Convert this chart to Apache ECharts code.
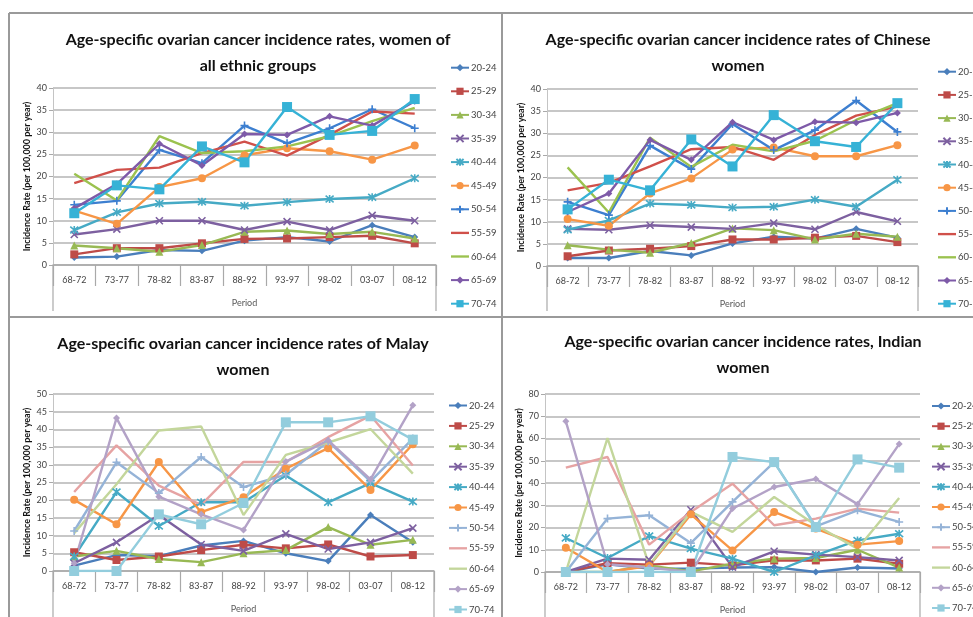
<!DOCTYPE html>
<html>
<head>
<meta charset="utf-8">
<script src="https://cdn.jsdelivr.net/npm/echarts@6/dist/echarts.min.js"></script>
<style>
  html, body { margin: 0; padding: 0; background: #ffffff; }
  #chart { width: 973px; height: 617px; }
</style>
</head>
<body>
<div id="chart"></div>
<script>
// Diagnosis periods (x axis categories)
const periods = ['68-72', '73-77', '78-82', '83-87', '88-92', '93-97', '98-02', '03-07', '08-12'];

// Age groups (one line per group)
const ageGroups = ['20-24', '25-29', '30-34', '35-39', '40-44', '45-49', '50-54', '55-59', '60-64', '65-69', '70-74'];

// Incidence per 100,000 per year, rows follow ageGroups, columns follow periods
const allEthnicRates = [
  [1.7, 1.9, 3.4, 3.2, 5.5, 6.3, 5.3, 9.0, 6.3],
  [2.4, 3.8, 3.8, 4.9, 5.9, 6.0, 6.3, 6.6, 4.9],
  [4.4, 3.8, 3.0, 4.5, 7.5, 7.8, 7.0, 7.5, 6.0],
  [6.9, 8.1, 10.0, 10.0, 7.9, 9.8, 7.9, 11.2, 10.0],
  [7.9, 11.9, 13.9, 14.3, 13.4, 14.2, 14.9, 15.3, 19.6],
  [12.3, 9.3, 17.6, 19.6, 24.8, 26.4, 25.7, 23.8, 27.0],
  [13.6, 14.5, 26.0, 23.0, 31.5, 27.5, 30.9, 35.2, 30.9],
  [18.5, 21.5, 22.0, 25.3, 27.9, 24.7, 29.4, 34.7, 34.2],
  [20.6, 14.6, 29.1, 25.3, 25.7, 26.8, 29.1, 32.5, 35.5],
  [12.8, 18.3, 27.4, 22.5, 29.6, 29.4, 33.6, 31.5, 37.0],
  [11.7, 18.0, 17.1, 26.8, 23.2, 35.7, 29.4, 30.3, 37.5]
];

const chineseRates = [
  [1.8, 1.8, 3.4, 2.4, 5.1, 6.6, 6.2, 8.4, 6.4],
  [2.2, 3.5, 3.9, 4.5, 6.0, 6.0, 6.4, 6.8, 5.4],
  [4.7, 3.7, 3.0, 5.2, 8.5, 8.1, 6.0, 7.3, 6.6],
  [8.4, 8.2, 9.2, 8.8, 8.4, 9.7, 8.3, 12.2, 10.1],
  [8.2, 10.3, 14.1, 13.8, 13.2, 13.4, 15.0, 13.4, 19.5],
  [10.6, 9.1, 16.4, 19.8, 26.3, 26.8, 24.8, 24.8, 27.3],
  [14.5, 11.5, 27.2, 21.9, 32.1, 26.2, 30.7, 37.4, 30.3],
  [17.1, 18.8, 22.5, 26.4, 26.9, 24.0, 29.6, 34.0, 36.0],
  [22.3, 12.1, 29.0, 22.4, 27.4, 25.9, 28.3, 33.0, 36.8],
  [12.2, 16.4, 28.5, 24.0, 32.5, 28.5, 32.6, 32.4, 34.6],
  [12.8, 19.5, 17.1, 28.6, 22.5, 34.1, 28.2, 26.9, 36.8]
];

const malayRates = [
  [1.5, 4.5, 4.2, 7.2, 8.5, 5.0, 2.8, 15.8, 8.1],
  [5.3, 3.1, 4.1, 5.9, 7.4, 6.4, 7.5, 4.1, 4.5],
  [4.1, 5.7, 3.4, 2.5, 5.0, 5.9, 12.4, 7.4, 8.8],
  [2.2, 8.1, 15.8, 7.5, 5.7, 10.5, 6.2, 8.1, 12.1],
  [4.1, 22.3, 12.7, 19.4, 19.4, 27.0, 19.4, 24.8, 19.6],
  [20.1, 13.2, 30.8, 16.6, 20.8, 28.9, 34.7, 22.9, 35.8],
  [11.3, 30.7, 22.0, 32.2, 23.7, 27.2, 36.6, 25.3, 37.4],
  [22.3, 35.5, 24.1, 18.7, 30.8, 30.8, 37.8, 43.9, 29.8],
  [10.7, 24.5, 39.7, 40.8, 15.8, 32.8, 36.3, 40.1, 27.5],
  [2.2, 43.2, 21.0, 16.0, 11.6, 30.9, 36.9, 25.9, 46.8],
  [0, 0, 16.0, 13.2, 19.2, 42.0, 42.0, 43.7, 37.1]
];

const indianRates = [
  [0, 3.5, 1.5, 1.5, 2.0, 2.2, 0, 2.0, 1.6],
  [0, 4.0, 3.3, 4.2, 3.0, 5.2, 5.2, 6.0, 3.7],
  [0, 0, 3.0, 0.3, 3.7, 6.0, 6.3, 10.0, 2.0],
  [0, 6.0, 5.5, 28.0, 2.2, 9.3, 7.8, 6.7, 5.2],
  [15.3, 6.3, 16.2, 10.5, 6.0, 0, 7.5, 14.2, 17.2],
  [10.9, 0, 2.7, 25.9, 9.7, 27.0, 19.5, 12.3, 13.9],
  [0, 24.0, 25.5, 13.0, 31.5, 49.4, 20.5, 27.7, 22.5],
  [46.9, 51.7, 12.3, 27.0, 39.7, 21.0, 24.0, 28.5, 26.7],
  [0, 60.2, 3.0, 27.0, 18.0, 33.7, 21.0, 10.5, 33.3],
  [67.7, 3.5, 2.0, 0, 28.5, 38.2, 41.8, 30.5, 57.5],
  [0, 0, 0, 0, 51.7, 49.4, 20.2, 50.6, 46.9]
];

// Line colours: strong set for the top row, paler tints for the older groups in the bottom row
const strongColors = ['#4a7ebb', '#be4b48', '#98b954', '#7d60a0', '#46aac5', '#f79646',
                      '#3d7fd0', '#d0504a', '#9bc24f', '#7e5aa8', '#36b2d6'];
const paleColors   = ['#4a7ebb', '#be4b48', '#98b954', '#7d60a0', '#46aac5', '#f79646',
                      '#95b3d7', '#e6a3a3', '#c3d69b', '#b3a2c7', '#93cddd'];

// Marker shapes per age group
const markerShapes = [
  'diamond', 'rect', 'triangle',
  'path://M0,0L10,10M10,0L0,10',
  'path://M0,0L10,10M10,0L0,10M5,-1L5,11',
  'circle',
  'path://M5,0L5,10M0,5L10,5',
  'none', 'none', 'diamond', 'rect'
];
const markerSizes = [7, 8, 8, 7, 8, 8, 8, 0, 0, 7, 10];

// Legend icon for the groups drawn without markers: a plain stroke
const plainLineIcon = 'path://M0,0L20,0L20,2.6L0,2.6Z';

const AXIS_GREY = '#a9a9a9';
const FONT = 'Lato, "Open Sans", sans-serif';

const panels = [
  {
    key: 'all',
    title: 'Age-specific ovarian cancer incidence rates, women of\nall ethnic groups',
    rates: allEthnicRates, colors: strongColors, yMax: 40, yStep: 5,
    grid: { left: 53, top: 88, width: 383, height: 177 },
    titleX: 258, titleTop: 27,
    legend: { left: 450, top: 62.7, gap: 13.6 },
    edgeBottom: 311
  },
  {
    key: 'chinese',
    title: 'Age-specific ovarian cancer incidence rates of Chinese\nwomen',
    rates: chineseRates, colors: strongColors, yMax: 40, yStep: 5,
    grid: { left: 547, top: 89, width: 371, height: 177 },
    titleX: 738, titleTop: 27,
    legend: { left: 937, top: 66.7, gap: 13.2 },
    edgeBottom: 311
  },
  {
    key: 'malay',
    title: 'Age-specific ovarian cancer incidence rates of Malay\nwomen',
    rates: malayRates, colors: paleColors, yMax: 50, yStep: 5,
    grid: { left: 53, top: 394, width: 381, height: 177 },
    titleX: 243, titleTop: 331,
    legend: { left: 448, top: 400.5, gap: 10.4 },
    edgeBottom: 617
  },
  {
    key: 'indian',
    title: 'Age-specific ovarian cancer incidence rates, Indian\nwomen',
    rates: indianRates, colors: paleColors, yMax: 80, yStep: 10,
    grid: { left: 545, top: 394, width: 375, height: 178 },
    titleX: 743, titleTop: 329,
    legend: { left: 931, top: 401, gap: 10.2 }, edgeBottom: 617
  }
];

const titles = [], grids = [], xAxes = [], yAxes = [], legends = [], series = [], graphics = [];

panels.forEach(function (p, pi) {
  titles.push({
    text: p.title, padding: 0,
    left: p.titleX, top: p.titleTop, textAlign: 'center',
    textStyle: { fontFamily: FONT, fontWeight: 'bold', fontSize: 16, lineHeight: 26, color: '#111' }
  });
  grids.push({ left: p.grid.left, top: p.grid.top, width: p.grid.width, height: p.grid.height, containLabel: false });
  xAxes.push({
    type: 'category', gridIndex: pi, data: periods, boundaryGap: true,
    name: 'Period', nameLocation: 'middle', nameGap: 34,
    nameTextStyle: { fontFamily: FONT, fontSize: 9, color: '#595959' },
    axisLine: { lineStyle: { color: AXIS_GREY, width: 1.5 } },
    axisTick: { show: true, interval: 0, length: 21, lineStyle: { color: AXIS_GREY, width: 1.2 } },
    axisLabel: { interval: 0, margin: 11, fontFamily: FONT, fontSize: 9, color: '#444' },
    splitLine: { show: false }
  });
  yAxes.push({
    type: 'value', gridIndex: pi, min: 0, max: p.yMax, interval: p.yStep,
    name: 'Incidence Rate (per 100,000 per year)', nameLocation: 'middle', nameGap: 21,
    nameTextStyle: { fontFamily: FONT, fontWeight: 'bold', fontSize: 9, color: '#111' },
    axisLine: { show: true, lineStyle: { color: '#c4c4c4', width: 1 } },
    axisTick: { show: true, length: 4, lineStyle: { color: AXIS_GREY } },
    axisLabel: { margin: 6, fontFamily: FONT, fontSize: 9, color: '#444' },
    splitLine: { show: true, lineStyle: { color: '#b5b5b5', width: 1.5 } }
  });

  const legendItems = [];
  ageGroups.forEach(function (age, ai) {
    const color = p.colors[ai];
    const name = age + ' \u00b7 ' + p.key;
    const shape = markerShapes[ai];
    legendItems.push(shape === 'none' ? { name: name, icon: plainLineIcon } : { name: name });
    const isStroke = shape.indexOf('path://') === 0;
    series.push({
      type: 'line', name: name, xAxisIndex: pi, yAxisIndex: pi,
      data: p.rates[ai],
      symbol: shape, symbolSize: markerSizes[ai], showSymbol: shape !== 'none',
      lineStyle: { color: color, width: 2.4 },
      itemStyle: { color: color, borderColor: color, borderWidth: isStroke ? 1.6 : 0 },
      emphasis: { disabled: true },
      animation: false
    });
  });

  legends.push({
    data: legendItems, orient: 'vertical', padding: 0,
    left: p.legend.left, top: p.legend.top,
    itemWidth: 18, itemHeight: 9, itemGap: p.legend.gap,
    formatter: function (n) { return n.split(' \u00b7 ')[0]; },
    textStyle: { fontFamily: FONT, fontSize: 9.5, color: '#444', padding: [0, 0, 0, -3] },
    selectedMode: false
  });

  // long boundary lines at both ends of the category axis
  const axisY = p.grid.top + p.grid.height;
  [p.grid.left, p.grid.left + p.grid.width].forEach(function (x) {
    graphics.push({
      type: 'line', silent: true,
      shape: { x1: x, y1: axisY, x2: x, y2: p.edgeBottom },
      style: { stroke: AXIS_GREY, lineWidth: 1.2 }
    });
  });
});

// frame lines separating the four charts
[
  [9, 13, 973, 13], [9, 317, 973, 317], [9, 13, 9, 617], [502, 13, 502, 617]
].forEach(function (s) {
  graphics.push({
    type: 'line', silent: true,
    shape: { x1: s[0], y1: s[1], x2: s[2], y2: s[3] },
    style: { stroke: '#9a9a9a', lineWidth: 2 }
  });
});

const chart = echarts.init(document.getElementById('chart'), null, { renderer: 'canvas' });
chart.setOption({
  backgroundColor: '#ffffff',
  animation: false,
  title: titles,
  grid: grids,
  xAxis: xAxes,
  yAxis: yAxes,
  legend: legends,
  series: series,
  graphic: graphics
});
</script>
</body>
</html>
